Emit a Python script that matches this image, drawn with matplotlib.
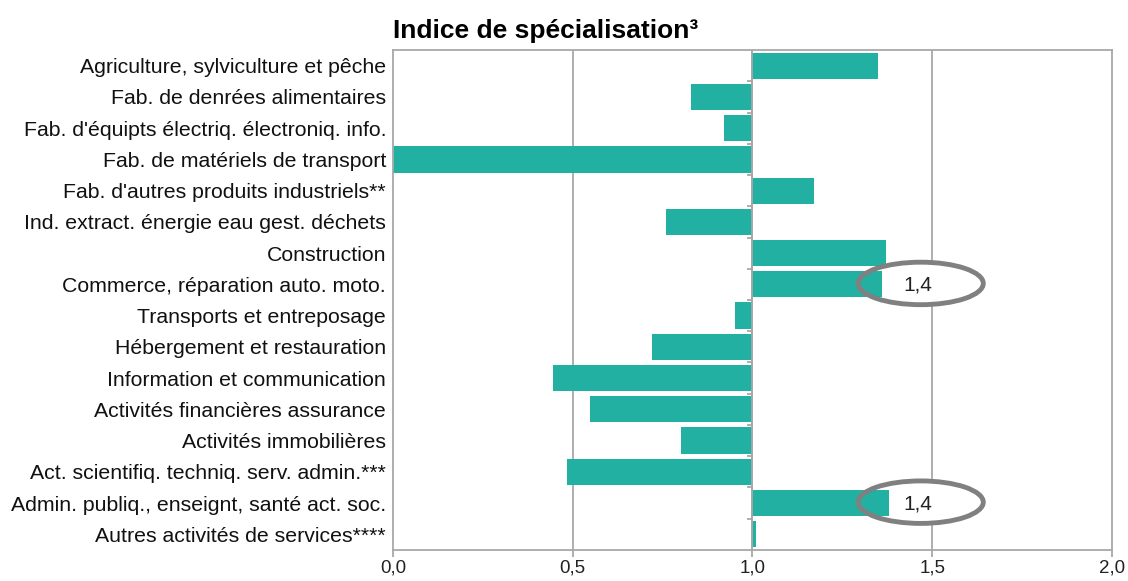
import matplotlib.pyplot as plt
from matplotlib.patches import Ellipse
import numpy as np

# Données : indice de spécialisation par secteur
secteurs = [
    "Agriculture, sylviculture et pêche",
    "Fab. de denrées alimentaires",
    "Fab. d'équipts électriq. électroniq. info.",
    "Fab. de matériels de transport",
    "Fab. d'autres produits industriels**",
    "Ind. extract. énergie eau gest. déchets",
    "Construction",
    "Commerce, réparation auto. moto.",
    "Transports et entreposage",
    "Hébergement et restauration",
    "Information et communication",
    "Activités financières assurance",
    "Activités immobilières",
    "Act. scientifiq. techniq. serv. admin.***",
    "Admin. publiq., enseignt, santé act. soc.",
    "Autres activités de services****",
]
indices = [1.35, 0.83, 0.92, 0.0, 1.17, 0.76, 1.37, 1.36,
           0.95, 0.72, 0.445, 0.548, 0.80, 0.484, 1.38, 1.01]

# secteurs annotés par une ellipse
annotes = ["Commerce, réparation auto. moto.",
           "Admin. publiq., enseignt, santé act. soc."]
etiquettes = ["1,4", "1,4"]

ticks_x = [0.0, 0.5, 1.0, 1.5, 2.0]
ticks_lab = ["0,0", "0,5", "1,0", "1,5", "2,0"]

plt.rcParams['font.family'] = ['Liberation Sans', 'DejaVu Sans']

fig = plt.figure(figsize=(11.28, 5.81), dpi=100)
ax = fig.add_axes([0.3484, 0.0534, 0.6374, 0.8605])

gris = "#a8a8a8"
pos = np.arange(len(secteurs))
largeurs = [v - 1.0 for v in indices]
ax.barh(pos, largeurs, left=1.0, height=0.84, color="#22b0a2", zorder=2)

ax.set_xlim(0, 2)
ax.set_ylim(len(secteurs) - 0.5, -0.5)

for x in ticks_x[1:-1]:
    ax.axvline(x, color=gris, lw=1.3, zorder=1)
ax.axvline(1.0, color=gris, lw=1.3, zorder=3)
# petits traits entre les catégories sur l'axe 1,0
ax.hlines(pos[:-1] + 0.5, 0.985, 1.0, color=gris, lw=1.3, zorder=3)

for s in ax.spines.values():
    s.set_color(gris)
    s.set_linewidth(1.3)

ax.set_xticks(ticks_x)
ax.set_xticklabels(ticks_lab, fontsize=13.5, color="#222222")
ax.tick_params(axis="x", length=5, color=gris, width=1.3, pad=2)
ax.set_yticks(pos)
ax.set_yticklabels(secteurs, fontsize=15.3, color="#111111")
ax.tick_params(axis="y", length=0, pad=5)

for nom, txt in zip(annotes, etiquettes):
    i = secteurs.index(nom)
    ax.add_patch(Ellipse((1.468, i - 0.03), 0.348, 1.36, facecolor="white",
                         edgecolor="none", zorder=1.5))
    ax.add_patch(Ellipse((1.468, i - 0.03), 0.348, 1.36, fill=False,
                         edgecolor="#808080", lw=3.5, zorder=4))
    ax.text(1.46, i + 0.03, txt, ha="center", va="center", fontsize=15,
            color="#222222", zorder=5)

ax.set_title("Indice de spécialisation³", loc="left", fontsize=19,
             fontweight="bold", pad=9)

fig.savefig("out.png", dpi=100)
